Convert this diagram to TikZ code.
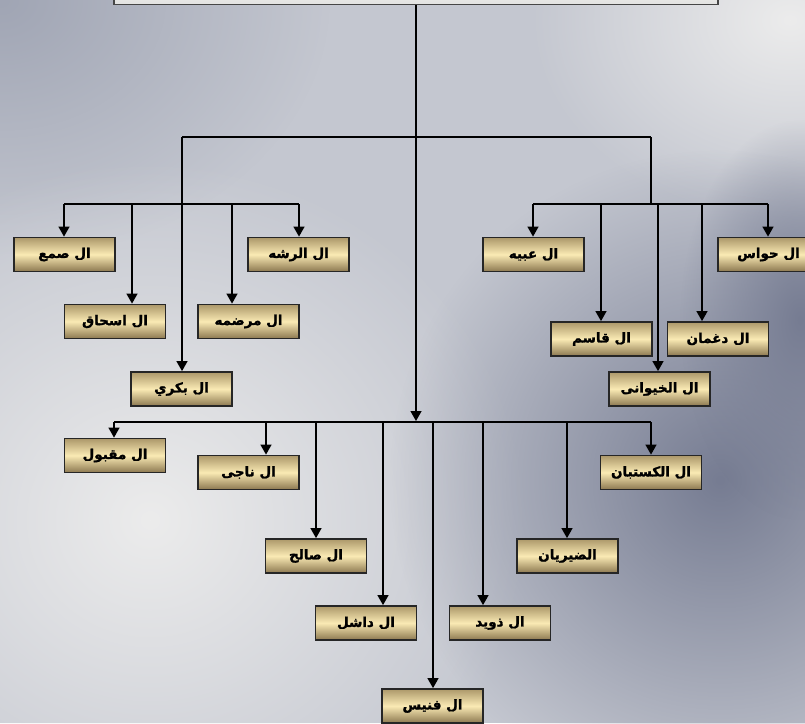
\documentclass[tikz,border=0pt]{standalone}
\usepackage{fontspec}
\usetikzlibrary{arrows.meta,fadings}
\TeXXeTstate=1
\newfontfamily\arabicfont[Script=Arabic, FakeBold=1.5]{DejaVu Sans Bold}
\definecolor{bgBase}{RGB}{196,199,208}
\definecolor{bgLight}{RGB}{236,236,236}
\definecolor{bgDark}{RGB}{118,124,146}
\definecolor{bgCorner}{RGB}{160,165,180}
\definecolor{boxTop}{RGB}{172,152,106}
\definecolor{boxMid}{RGB}{250,234,180}
\definecolor{boxBot}{RGB}{140,120,80}
\definecolor{topFill}{RGB}{244,244,242}
\definecolor{topEdge}{RGB}{70,70,70}
\tikzfading[name=softspot, inner color=transparent!0, outer color=transparent!100]
\begin{document}
\begin{tikzpicture}[x=1pt,y=-1pt,
  famnode/.style={draw=black!85, line width=1.8pt, top color=boxTop, bottom color=boxBot, middle color=boxMid,
    minimum width=101pt, minimum height=34pt, inner sep=0pt,
    font=\arabicfont\fontsize{13.5}{15}\selectfont},
  topbox/.style={draw=topEdge, line width=1.5pt, top color=white, bottom color=topFill!85!gray,
    minimum width=604pt, minimum height=40pt, inner sep=0pt},
  conn/.style={line width=1.3pt, draw=black},
  arr/.style={conn, -{Triangle[width=11pt,length=10pt]}}]
\clip (0,0) rectangle (805,723);
% background
\fill[bgBase] (0,0) rectangle (805,723);
\fill[bgCorner, path fading=softspot] (0,0) ellipse (330 and 260);
\fill[bgLight, path fading=softspot] (150,520) ellipse (380 and 360);
\fill[bgLight, path fading=softspot] (790,20) ellipse (260 and 200);
\fill[bgDark, path fading=softspot] (720,480) ellipse (330 and 330);
\fill[bgDark, path fading=softspot] (800,320) ellipse (120 and 200);
% top box
\node[topbox] (top) at (416,-15.5) {};
% left group
\node[famnode] (samaa)  at (64.5,254.5)  {\beginR ال صمع\endR};
\node[famnode] (rasha)  at (298.5,254.5) {\beginR ال الرشه\endR};
\node[famnode] (ishaq)  at (115,321.5)   {\beginR ال اسحاق\endR};
\node[famnode] (mardma) at (248.5,321.5) {\beginR ال مرضمه\endR};
\node[famnode] (bakri)  at (181.5,389)   {\beginR ال بكري\endR};
% right group
\node[famnode] (obaih)  at (533.5,254.5) {\beginR ال عبيه\endR};
\node[famnode] (hawas)  at (768.5,254.5) {\beginR ال حواس\endR};
\node[famnode] (qasem)  at (601.5,339)   {\beginR ال قاسم\endR};
\node[famnode] (daghman) at (718,339)    {\beginR ال دغمان\endR};
\node[famnode] (khaiwani) at (659.5,389) {\beginR ال الخيوانى\endR};
% bottom group
\node[famnode] (maqbool) at (115,455.5)  {\beginR ال مقبول\endR};
\node[famnode] (naji)    at (248.5,472.5) {\beginR ال ناجى\endR};
\node[famnode] (saleh)   at (316,556)    {\beginR ال صالح\endR};
\node[famnode] (dashel)  at (366,623)    {\beginR ال داشل\endR};
\node[famnode] (fanis)   at (432.5,706)  {\beginR ال فنيس\endR};
\node[famnode] (thuwaid) at (500,623)    {\beginR ال ذويد\endR};
\node[famnode] (dhairian) at (567.5,556) {\beginR الضيريان\endR};
\node[famnode] (kastaban) at (651,472.5) {\beginR ال الكستبان\endR};
% junction coordinates
\coordinate (jL) at (182,137);
\coordinate (jR) at (651,137);
\coordinate (hL1) at (64,204);
\coordinate (hL2) at (299,204);
\coordinate (hR1) at (533,204);
\coordinate (hR2) at (768,204);
\coordinate (hB1) at (114,422);
\coordinate (hB2) at (651,422);
\coordinate (trunkEnd) at (416,421);
% trunk
\draw[arr] (top.south) -- (trunkEnd);
\draw[conn] (jL) -- (jR);
\draw[conn] (jR) -- (jR |- hR1);
% left horizontal and drops
\draw[conn] (hL1) -- (hL2);
\draw[arr] (hL1) -- (samaa.north -| hL1);
\draw[arr] (132,204) -- (ishaq.north -| 132,0);
\draw[arr] (jL) -- (bakri.north -| jL);
\draw[arr] (232,204) -- (mardma.north -| 232,0);
\draw[arr] (hL2) -- (rasha.north -| hL2);
% right horizontal and drops
\draw[conn] (hR1) -- (hR2);
\draw[arr] (hR1) -- (obaih.north -| hR1);
\draw[arr] (601,204) -- (qasem.north -| 601,0);
\draw[arr] (658,204) -- (khaiwani.north -| 658,0);
\draw[arr] (702,204) -- (daghman.north -| 702,0);
\draw[arr] (hR2) -- (hawas.north -| hR2);
% bottom horizontal and drops
\draw[conn] (hB1) -- (hB2);
\draw[arr] (hB1) -- (maqbool.north -| hB1);
\draw[arr] (266,422) -- (naji.north -| 266,0);
\draw[arr] (316,422) -- (saleh.north -| 316,0);
\draw[arr] (383,422) -- (dashel.north -| 383,0);
\draw[arr] (433,422) -- (fanis.north -| 433,0);
\draw[arr] (483,422) -- (thuwaid.north -| 483,0);
\draw[arr] (567,422) -- (dhairian.north -| 567,0);
\draw[arr] (hB2) -- (kastaban.north -| hB2);
\end{tikzpicture}
\end{document}
